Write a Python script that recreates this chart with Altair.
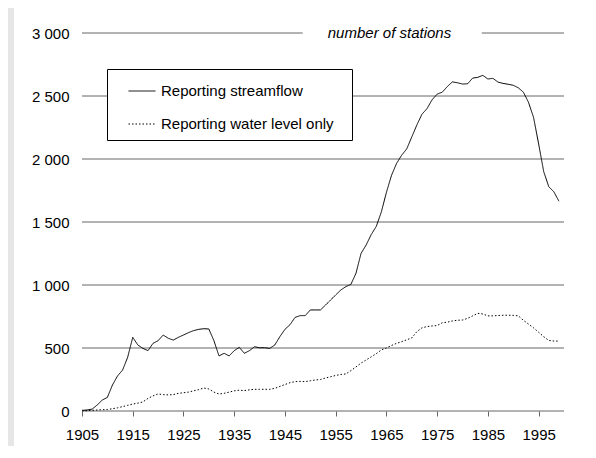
import altair as alt
import pandas as pd

years = list(range(1905, 2000))
streamflow = [5, 8, 15, 48, 87, 108, 206, 278, 325, 426,
              585, 524, 497, 479, 537, 558, 603, 577, 563, 585,
              603, 622, 638, 648, 653, 651, 558, 437, 458, 437,
              479, 505, 458, 479, 510, 502, 502, 497, 524, 590,
              648, 685, 743, 757, 757, 802, 802, 802, 841, 881,
              921, 960, 987, 1005, 1093, 1251, 1317, 1400, 1465, 1580,
              1735, 1870, 1965, 2030, 2080, 2175, 2270, 2355, 2400, 2470,
              2515, 2530, 2575, 2612, 2605, 2595, 2597, 2642, 2648, 2664,
              2635, 2640, 2610, 2600, 2593, 2585, 2565, 2530, 2450, 2330,
              2120, 1900, 1780, 1740, 1665]
water_level = [0, 3, 5, 8, 10, 12, 18, 25, 35, 45,
               55, 62, 72, 100, 120, 135, 130, 128, 130, 140,
               145, 150, 160, 170, 182, 175, 150, 135, 140, 150,
               160, 165, 162, 168, 172, 172, 172, 172, 180, 195,
               210, 225, 233, 235, 233, 240, 246, 250, 262, 272,
               282, 290, 294, 320, 350, 380, 405, 430, 455, 485,
               500, 520, 537, 550, 565, 580, 630, 660, 670, 675,
               678, 700, 705, 715, 720, 722, 735, 755, 775, 770,
               755, 755, 758, 760, 760, 759, 755, 720, 690, 660,
               625, 590, 560, 555, 555]
series_names = ["Reporting streamflow", "Reporting water level only"]
y_ticks = [0, 500, 1000, 1500, 2000, 2500, 3000]
x_ticks = list(range(1905, 2000, 10))
title_text = "number of stations"
title_year = 1965.6

# gridline segments (the 3000 line is broken around the title)
grid_y = [0, 500, 1000, 1500, 2000, 2500, 3000, 3000]
grid_x1 = [1905, 1905, 1905, 1905, 1905, 1905, 1905, 1983.8]
grid_x2 = [2000, 2000, 2000, 2000, 2000, 2000, 1948.5, 2000]

FONT = "Liberation Sans"
W, H = 482, 378

df = pd.DataFrame({
    "year": years * 2,
    "value": streamflow + water_level,
    "series": [series_names[0]] * len(years) + [series_names[1]] * len(years),
})
grid_df = pd.DataFrame({"y": grid_y, "x1": grid_x1, "x2": grid_x2})
title_df = pd.DataFrame({"x": [title_year], "y": [3000], "t": [title_text]})

xscale = alt.Scale(domain=[1905, 2000], nice=False, zero=False)
yscale = alt.Scale(domain=[0, 3000], nice=False)

x_axis = alt.Axis(values=x_ticks, format="d", title=None, domain=False,
                  grid=False, ticks=True, tickColor="#666666", tickSize=5,
                  labelPadding=11, labelFontSize=15, labelFont=FONT,
                  labelColor="black", labelFlush=False, zindex=2)
y_axis = alt.Axis(values=y_ticks, title=None, domain=False, grid=False,
                  ticks=False, labelPadding=13, labelFontSize=15,
                  labelFont=FONT, labelColor="black", zindex=2,
                  labelExpr="replace(format(datum.value, ','), ',', ' ')")

panel = alt.Chart(title_df).mark_rect(fill="white").encode(
    x=alt.value(-68), x2=alt.value(W + 30), y=alt.value(-30), y2=alt.value(H + 40)
)

grid = alt.Chart(grid_df).mark_rule(color="#666666", strokeWidth=1).encode(
    x=alt.X("x1:Q", scale=xscale, axis=x_axis),
    x2="x2:Q",
    y=alt.Y("y:Q", scale=yscale, axis=y_axis),
)

lines = alt.Chart(df).mark_line(color="black", strokeWidth=1).encode(
    x=alt.X("year:Q", scale=xscale, axis=x_axis),
    y=alt.Y("value:Q", scale=yscale, axis=y_axis),
    strokeDash=alt.StrokeDash(
        "series:N",
        scale=alt.Scale(domain=series_names, range=[[1, 0], [1.5, 2]]),
        legend=alt.Legend(title=" ", titleOrient="right", titlePadding=10,
                          titleFontSize=15, titleFont=FONT,
                          orient="none", legendX=25, legendY=36,
                          fillColor="white", strokeColor="black", padding=8,
                          symbolType="stroke", symbolSize=729, symbolStrokeColor="black",
                          symbolStrokeWidth=1, symbolOffset=13, labelOffset=5,
                          rowPadding=11, labelFontSize=15, labelFont=FONT,
                          labelColor="black", labelLimit=400, zindex=3),
    ),
)

title = alt.Chart(title_df).mark_text(
    font=FONT, fontSize=15, fontStyle="italic", color="black", baseline="middle", align="center"
).encode(
    x=alt.X("x:Q", scale=xscale, axis=x_axis),
    y=alt.Y("y:Q", scale=yscale, axis=y_axis),
    text="t:N",
)

chart = alt.layer(panel, grid, lines, title).properties(
    width=W, height=H,
    autosize=alt.AutoSizeParams(type="none"),
    padding={"left": 74, "top": 25, "right": 20, "bottom": 35},
    background="#e6e6e6",
).configure_view(stroke=None)

chart.save("out.html", embed_options={"renderer": "svg", "actions": False})
